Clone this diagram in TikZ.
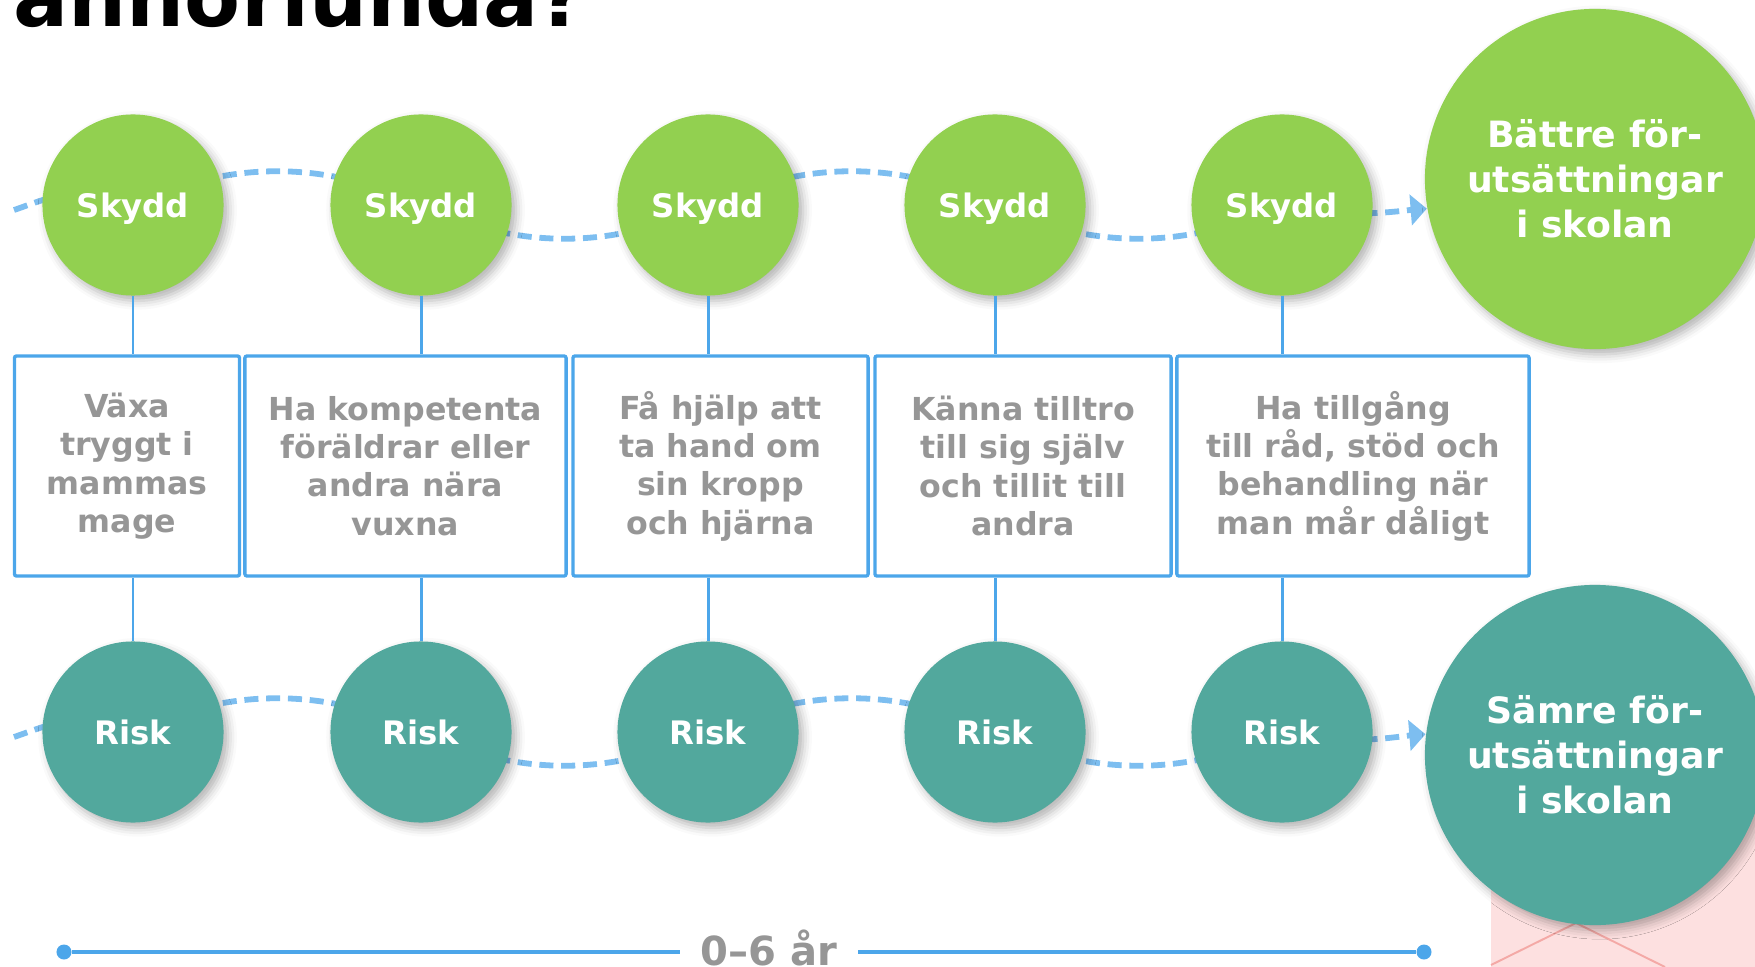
\documentclass[tikz,border=0pt]{standalone}
\usepackage{fontspec}
\setmainfont{DejaVu Sans}
\usepackage{xcolor}
\usetikzlibrary{positioning,arrows.meta,backgrounds,shadows.blur}

\definecolor{skyddgreen}{HTML}{92D050}
\definecolor{riskteal}{HTML}{52A89D}
\definecolor{lineblue}{HTML}{4CA6EA}
\definecolor{waveblue}{HTML}{7DBEF0}
\definecolor{textgray}{HTML}{969696}
\definecolor{pinkbg}{HTML}{FDE0E0}
\definecolor{pinkline}{HTML}{F4A9A6}

\tikzset{
	roundnode/.style={circle,inner sep=0pt,text=white,align=center,
		blur shadow={shadow xshift=1.3pt,shadow yshift=-1.5pt,shadow blur radius=2.5pt,shadow opacity=30}},
	skydd/.style={roundnode,fill=skyddgreen,minimum size=1.81cm,text depth=0pt,font=\bfseries\fontsize{9.2}{11}\selectfont},
	risk/.style={roundnode,fill=riskteal,minimum size=1.81cm,text depth=0pt,font=\bfseries\fontsize{9.2}{11}\selectfont},
	bigcirc/.style={roundnode,minimum size=3.4cm,font=\bfseries\fontsize{10.3}{12.8}\selectfont},
	infobox/.style={draw=lineblue,line width=0.95pt,rounded corners=0.6pt,minimum height=2.2cm,
		inner sep=0pt,align=center,text=textgray,font=\bfseries\fontsize{9}{10.9}\selectfont,
		execute at begin node=\rule{0pt}{8.2pt}},
	conn/.style={lineblue,line width=0.85pt},
	wave/.style={waveblue,line width=1.65pt,dash pattern=on 4pt off 2.2pt,
		-{Triangle[length=4.6pt,width=8.6pt]}},
	dot/.style={circle,fill=lineblue,inner sep=0pt,minimum size=0.15cm}
}

\begin{document}
\begin{tikzpicture}[x=0.01cm,y=-0.01cm]
	\useasboundingbox (0,0) rectangle (1755,967);
	\clip (0,0) rectangle (1755,967);
	% title, cut off by the top edge
	\node[anchor=base west,inner sep=0pt,font=\bfseries\fontsize{23.2}{27}\selectfont] (title) at (13,27) {annorlunda?};
	% protective / risk factors
	\foreach \i/\x in {1/133,2/421,3/708,4/995,5/1282} {
		\node[skydd] (s\i) at (\x,205) {Skydd};
		\node[risk] (r\i) at (\x,732) {Risk};
	}
	\node[bigcirc,fill=skyddgreen] (bs) at (1595,179) {Bättre för-\\utsättningar\\i skolan};
	\node[bigcirc,fill=riskteal] (br) at (1595,755) {Sämre för-\\utsättningar\\i skolan};
	% needs
	\node[infobox,minimum width=2.25cm] (bx1) at (127,466) {Växa\\tryggt i\\mammas\\mage};
	\node[infobox,minimum width=3.21cm] (bx2) at (405.5,466) {Ha kompetenta\\föräldrar eller\\andra nära\\vuxna};
	\node[infobox,minimum width=2.95cm] (bx3) at (720.5,466) {Få hjälp att\\ta hand om\\sin kropp\\och hjärna};
	\node[infobox,minimum width=2.96cm] (bx4) at (1023,466) {Känna tilltro\\till sig själv\\och tillit till\\andra};
	\node[infobox,minimum width=3.52cm] (bx5) at (1353,466) {Ha tillgång\\till råd, stöd och\\behandling när\\man mår dåligt};
	\foreach \i in {1,...,5} {
		\draw[conn] (s\i) -- (s\i |- bx\i.north);
		\draw[conn] (s\i |- bx\i.south) -- (r\i);
	}
	% age line
	\node[dot] (dl) at (64,952) {};
	\node[dot] (dr) at (1424,952) {};
	\node[anchor=base,inner xsep=5.7pt,inner ysep=0pt,text=textgray,font=\bfseries\fontsize{11.4}{13}\selectfont] (age) at (769,965) {0–6 år};
	\draw[lineblue,line width=1.2pt] (dl) -- (age.west |- dl);
	\draw[lineblue,line width=1.2pt] (age.east |- dr) -- (dr);
	% dashed paths behind the circles
	\coordinate (s0) at (14,210);
	\coordinate (r0) at (14,737);
	\begin{scope}[on background layer]
		\fill[pinkbg] (1491,780) rectangle (1760,970);
		\draw[pinkline,line width=0.55pt] (1491,965) -- (1576,923) -- (1665,967);
		\foreach \r/\a in {s/190,r/173} {
			\draw[wave] (\r0) .. controls +(30,-10) and +(-50,-25) .. (\r1.center)
				.. controls +(96,-45) and +(-96,-45) .. (\r2.center)
				.. controls +(96,45) and +(-96,45) .. (\r3.center)
				.. controls +(96,-45) and +(-96,-45) .. (\r4.center)
				.. controls +(96,45) and +(-96,45) .. (\r5.center)
				.. controls +(60,15) and +(-25,2) .. (b\r.\a);
		}
	\end{scope}
\end{tikzpicture}
\end{document}
